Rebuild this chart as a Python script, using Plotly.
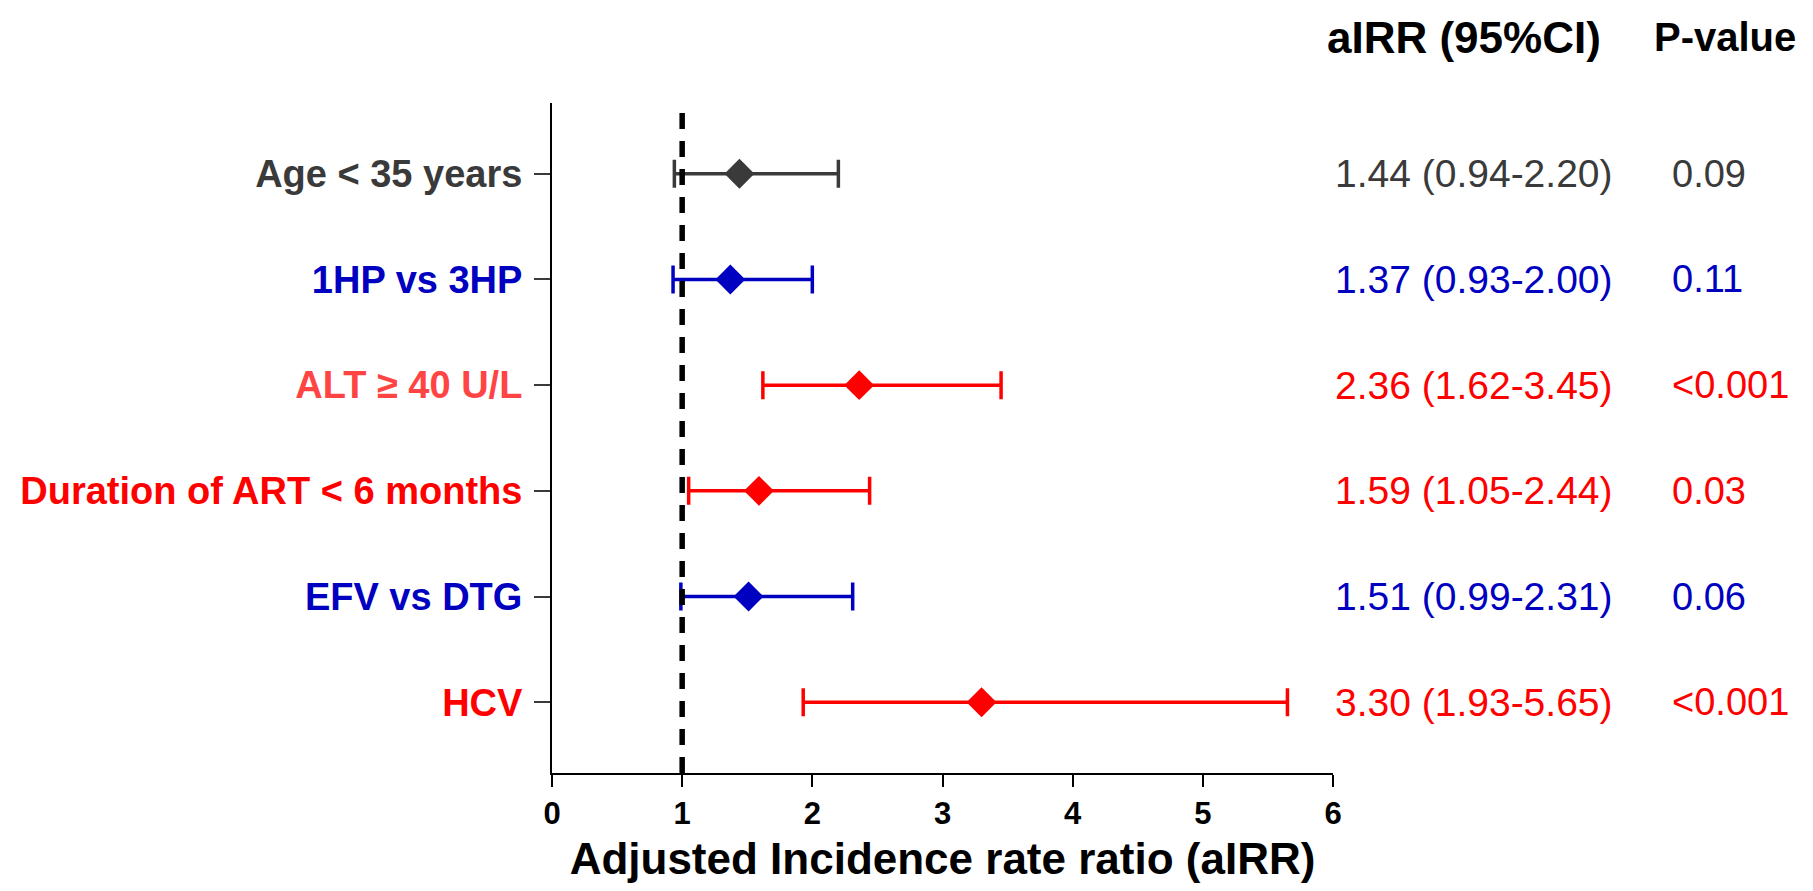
import plotly.graph_objects as go

# ---- data ----
labels = ["Age &lt; 35 years", "1HP vs 3HP", "ALT ≥ 40 U/L",
          "Duration of ART &lt; 6 months", "EFV vs DTG", "HCV"]
airr = [1.44, 1.37, 2.36, 1.59, 1.51, 3.30]
ci_low = [0.94, 0.93, 1.62, 1.05, 0.99, 1.93]
ci_high = [2.20, 2.00, 3.45, 2.44, 2.31, 5.65]
ci_text = ["1.44 (0.94-2.20)", "1.37 (0.93-2.00)", "2.36 (1.62-3.45)",
           "1.59 (1.05-2.44)", "1.51 (0.99-2.31)", "3.30 (1.93-5.65)"]
p_values = ["0.09", "0.11", "&lt;0.001", "0.03", "0.06", "&lt;0.001"]
row_colors = ["#3a3a3a", "#0000c0", "#ff0000", "#ff0000", "#0000c0", "#ff0000"]
label_colors = ["#3a3a3a", "#0000c0", "#ff4444", "#ff0000", "#0000c0", "#ff0000"]
x_ticks = [0, 1, 2, 3, 4, 5, 6]
ref_value = 1

FONT = "Liberation Sans, Arial, sans-serif"
rows = list(range(1, len(labels) + 1))

fig = go.Figure()
for i, r in enumerate(rows):
    fig.add_trace(go.Scatter(
        x=[airr[i]], y=[r], mode="markers",
        marker=dict(symbol="diamond", size=23, color=row_colors[i],
                    line=dict(width=0)),
        error_x=dict(type="data", symmetric=False,
                     array=[ci_high[i] - airr[i]],
                     arrayminus=[airr[i] - ci_low[i]],
                     color=row_colors[i], thickness=3.5, width=14),
        showlegend=False, hoverinfo="skip"))

# reference line at aIRR = 1
fig.add_shape(type="line", xref="x", yref="paper", x0=ref_value, x1=ref_value,
              y0=0, y1=0.994, layer="above",
              line=dict(color="black", width=5.5, dash="16px,12px"))

# right-side table
for i, r in enumerate(rows):
    fig.add_annotation(xref="paper", yref="y", x=1.0, y=r, text=ci_text[i],
                       showarrow=False, xanchor="left", yanchor="middle",
                       font=dict(family=FONT, size=39, color=row_colors[i]))
    fig.add_annotation(xref="paper", yref="y", x=1.432, y=r, text=p_values[i],
                       showarrow=False, xanchor="left", yanchor="middle",
                       font=dict(family=FONT, size=38, color=row_colors[i]))

fig.add_annotation(xref="paper", yref="paper", x=0.99, y=1.098,
                   text="<b>aIRR (95%CI)</b>", showarrow=False,
                   xanchor="left", yanchor="middle",
                   font=dict(family=FONT, size=44, color="black"))
fig.add_annotation(xref="paper", yref="paper", x=1.408, y=1.098,
                   text="<b>P-value</b>", showarrow=False,
                   xanchor="left", yanchor="middle",
                   font=dict(family=FONT, size=40, color="black"))

ticktext = [f'<span style="color:{c}">{t}</span>' for t, c in zip(labels, label_colors)]

fig.update_layout(
    width=1813, height=891,
    margin=dict(l=538, r=488, t=95, b=126),
    paper_bgcolor="white", plot_bgcolor="white",
    font=dict(family=FONT, color="black"),
    xaxis=dict(range=[0, 6], tickvals=x_ticks, ticktext=[str(v) for v in x_ticks],
               showgrid=False, zeroline=False,
               showline=True, linecolor="black", linewidth=2,
               ticks="outside", ticklen=12, tickwidth=2, tickcolor="black",
               tickfont=dict(family=FONT, size=31, color="black", weight="bold"),
               title=dict(text="<b>Adjusted Incidence rate ratio (aIRR)</b>",
                          font=dict(family=FONT, size=44, color="black"),
                          standoff=13)),
    yaxis=dict(range=[6.67, 0.33], tickvals=rows, ticktext=ticktext,
               showgrid=False, zeroline=False,
               showline=True, linecolor="black", linewidth=2,
               ticks="outside", ticklen=16, tickwidth=2, tickcolor="#3a3a3a",
               ticklabelstandoff=4,
               tickfont=dict(family=FONT, size=38, weight="bold")),
)

fig.write_html("out.html")
